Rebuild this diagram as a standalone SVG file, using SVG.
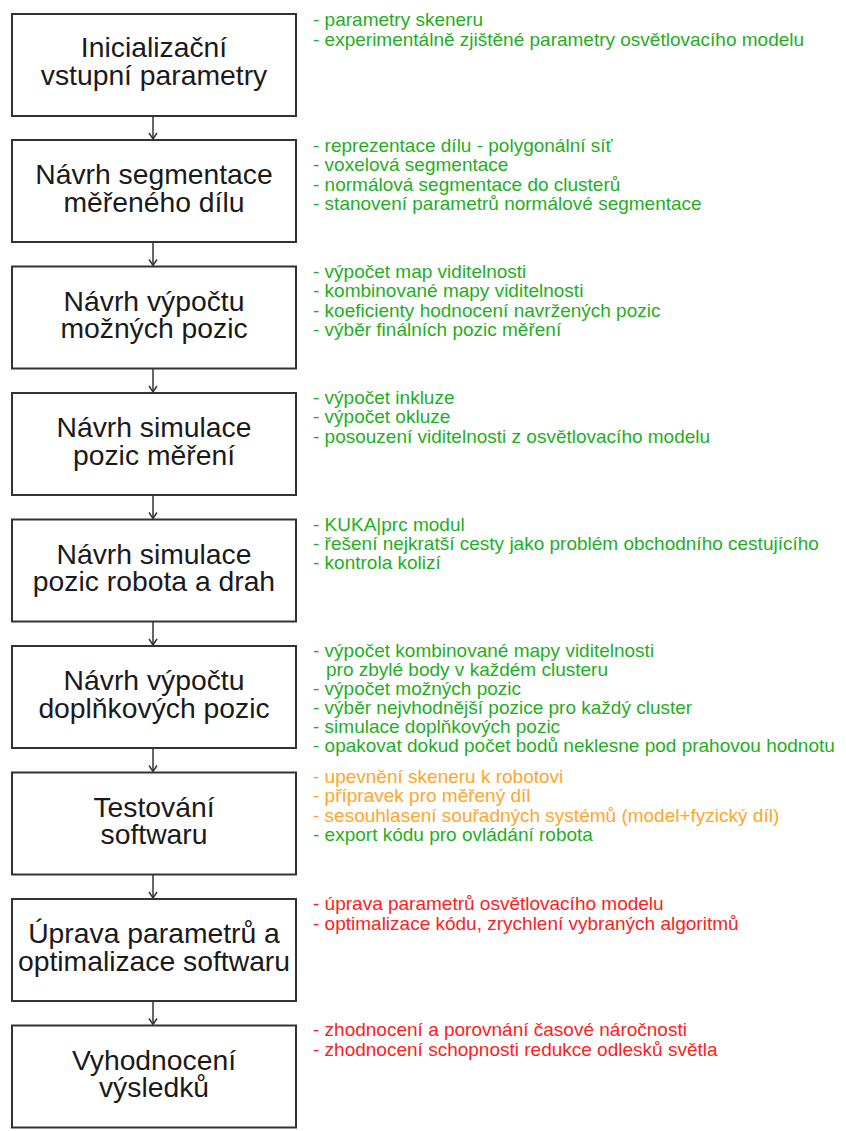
<svg xmlns="http://www.w3.org/2000/svg" width="846" height="1131" viewBox="0 0 846 1131">
<style>
.box{fill:#fff;stroke:#333;stroke-width:2}
.t{font-family:"Liberation Sans",Arial,sans-serif;font-size:28.3px;fill:#1a1a1a;text-anchor:middle}
.n{font-family:"Liberation Sans",Arial,sans-serif;font-size:19px}
.g{fill:#1fae1f}.o{fill:#ffa52a}.r{fill:#ff2020}
.c{stroke:#333;stroke-width:1.5;fill:none}
</style>
<defs><marker id="ah" markerWidth="10" markerHeight="10" refX="7" refY="5" orient="auto" markerUnits="userSpaceOnUse" viewBox="0 0 10 10"><path d="M1,1 L7,5 L1,9" fill="none" stroke="#333" stroke-width="1.5"/></marker></defs>
<rect width="846" height="1131" fill="#fff"/>
<g id="connectors">
<line class="c" x1="153" y1="116" x2="153" y2="139" marker-end="url(#ah)"/>
<line class="c" x1="153" y1="242" x2="153" y2="265.5" marker-end="url(#ah)"/>
<line class="c" x1="153" y1="368.5" x2="153" y2="392" marker-end="url(#ah)"/>
<line class="c" x1="153" y1="495" x2="153" y2="518.5" marker-end="url(#ah)"/>
<line class="c" x1="153" y1="621.5" x2="153" y2="645" marker-end="url(#ah)"/>
<line class="c" x1="153" y1="748" x2="153" y2="771.5" marker-end="url(#ah)"/>
<line class="c" x1="153" y1="874.5" x2="153" y2="898" marker-end="url(#ah)"/>
<line class="c" x1="153" y1="1001" x2="153" y2="1024.5" marker-end="url(#ah)"/>
</g>
<g id="n1"><rect class="box" x="12" y="14" width="284" height="102"/>
<text class="t"><tspan x="154" y="57">Inicializační</tspan><tspan x="154" y="85">vstupní parametry</tspan></text>
<text class="n g"><tspan x="313" y="25.5">- parametry skeneru</tspan><tspan x="313" y="46">- experimentálně zjištěné parametry osvětlovacího modelu</tspan></text></g>
<g id="n2"><rect class="box" x="12" y="140" width="284" height="102"/>
<text class="t"><tspan x="154" y="184">Návrh segmentace</tspan><tspan x="154" y="211.5">měřeného dílu</tspan></text>
<text class="n g"><tspan x="313" y="152">- reprezentace dílu - polygonální síť</tspan><tspan x="313" y="171.3">- voxelová segmentace</tspan><tspan x="313" y="190.6">- normálová segmentace do clusterů</tspan><tspan x="313" y="209.9">- stanovení parametrů normálové segmentace</tspan></text></g>
<g id="n3"><rect class="box" x="12" y="266.5" width="284" height="102"/>
<text class="t"><tspan x="154" y="310.5">Návrh výpočtu</tspan><tspan x="154" y="338">možných pozic</tspan></text>
<text class="n g"><tspan x="313" y="278">- výpočet map viditelnosti</tspan><tspan x="313" y="297.3">- kombinované mapy viditelnosti</tspan><tspan x="313" y="316.6">- koeficienty hodnocení navržených pozic</tspan><tspan x="313" y="335.9">- výběr finálních pozic měření</tspan></text></g>
<g id="n4"><rect class="box" x="12" y="393" width="284" height="102"/>
<text class="t"><tspan x="154" y="437">Návrh simulace</tspan><tspan x="154" y="464.5">pozic měření</tspan></text>
<text class="n g"><tspan x="313" y="404">- výpočet inkluze</tspan><tspan x="313" y="423.3">- výpočet okluze</tspan><tspan x="313" y="442.6">- posouzení viditelnosti z osvětlovacího modelu</tspan></text></g>
<g id="n5"><rect class="box" x="12" y="519.5" width="284" height="102"/>
<text class="t"><tspan x="154" y="563.5">Návrh simulace</tspan><tspan x="154" y="591">pozic robota a drah</tspan></text>
<text class="n g"><tspan x="313" y="530.5">- KUKA|prc modul</tspan><tspan x="313" y="549.8">- řešení nejkratší cesty jako problém obchodního cestujícího</tspan><tspan x="313" y="569.1">- kontrola kolizí</tspan></text></g>
<g id="n6"><rect class="box" x="12" y="646" width="284" height="102"/>
<text class="t"><tspan x="154" y="690">Návrh výpočtu</tspan><tspan x="154" y="717.5">doplňkových pozic</tspan></text>
<text class="n g"><tspan x="313" y="656.5">- výpočet kombinované mapy viditelnosti</tspan><tspan x="326" y="675.5">pro zbylé body v každém clusteru</tspan><tspan x="313" y="694.5">- výpočet možných pozic</tspan><tspan x="313" y="713.5">- výběr nejvhodnější pozice pro každý cluster</tspan><tspan x="313" y="732.5">- simulace doplňkových pozic</tspan><tspan x="313" y="751.5">- opakovat dokud počet bodů neklesne pod prahovou hodnotu</tspan></text></g>
<g id="n7"><rect class="box" x="12" y="772.5" width="284" height="102"/>
<text class="t"><tspan x="154" y="816.5">Testování</tspan><tspan x="154" y="844">softwaru</tspan></text>
<text class="n o"><tspan x="313" y="783">- upevnění skeneru k robotovi</tspan><tspan x="313" y="802.3">- přípravek pro měřený díl</tspan><tspan x="313" y="821.6">- sesouhlasení souřadných systémů (model+fyzický díl)</tspan></text>
<text class="n g" x="313" y="840.9">- export kódu pro ovládání robota</text></g>
<g id="n8"><rect class="box" x="12" y="899" width="284" height="102"/>
<text class="t"><tspan x="154" y="943">Úprava parametrů a</tspan><tspan x="154" y="970.5">optimalizace softwaru</tspan></text>
<text class="n r"><tspan x="313" y="910">- úprava parametrů osvětlovacího modelu</tspan><tspan x="313" y="929.5">- optimalizace kódu, zrychlení vybraných algoritmů</tspan></text></g>
<g id="n9"><rect class="box" x="12" y="1025.5" width="284" height="102"/>
<text class="t"><tspan x="154" y="1069.5">Vyhodnocení</tspan><tspan x="154" y="1097">výsledků</tspan></text>
<text class="n r"><tspan x="313" y="1035.5">- zhodnocení a porovnání časové náročnosti</tspan><tspan x="313" y="1056">- zhodnocení schopnosti redukce odlesků světla</tspan></text></g>
</svg>
